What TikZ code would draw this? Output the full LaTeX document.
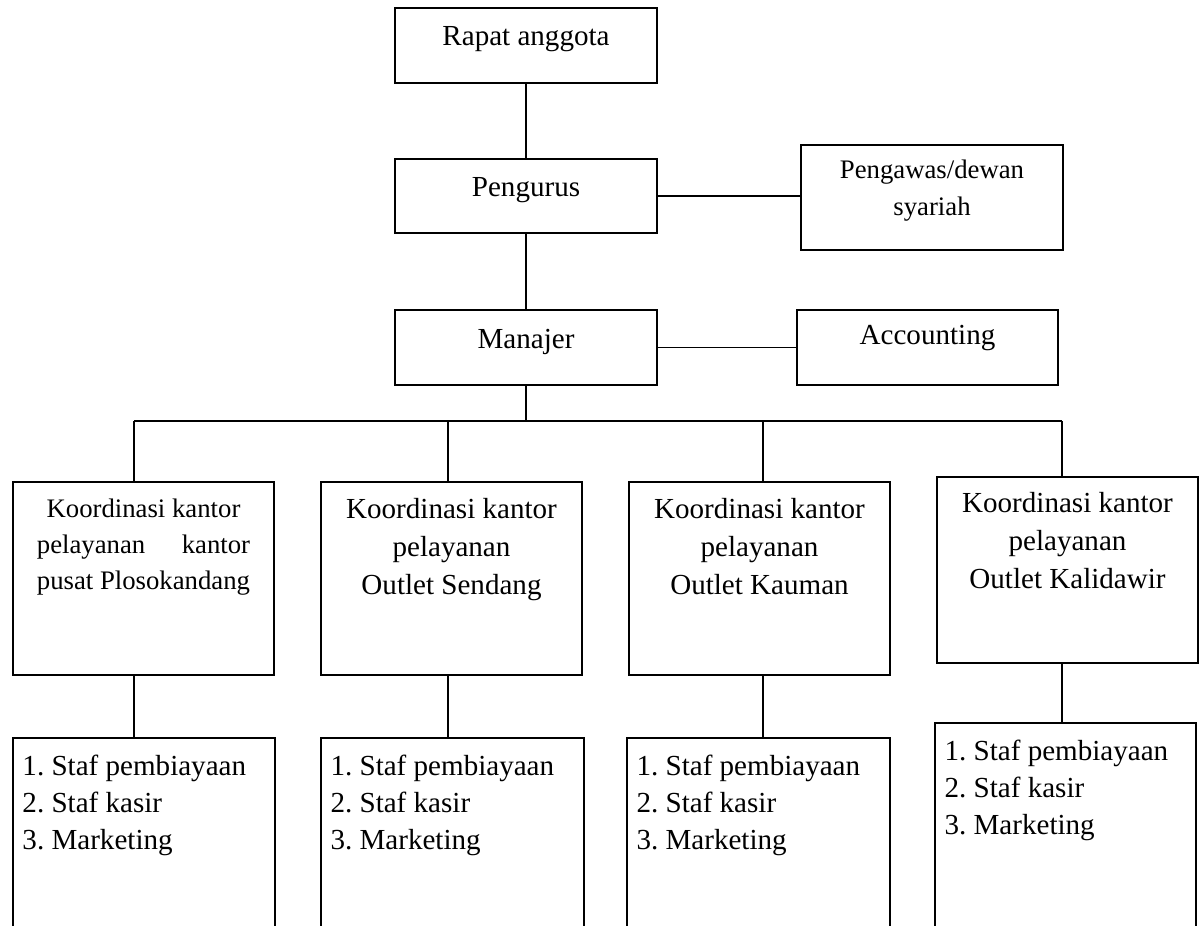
\documentclass[tikz,border=0pt]{standalone}
\usepackage{fontspec}
\setmainfont{Liberation Serif}
\usepackage{calc}
\frenchspacing
\tikzset{
    box/.style={rectangle, draw, line width=0.8pt, inner sep=0mm, minimum width=112.7pt, minimum height=32.25pt},
    kbox/.style={box, minimum height=83pt},
    sbox/.style={box, minimum height=95.5pt},
    link/.style={line width=0.75pt}
}
\tikzset{every label/.style={inner sep=0mm, align=center, font=\fontsize{12.5}{16.5}\selectfont}}

\begin{document}
\begin{tikzpicture}[x=0.43pt, y=-0.43pt]
    \useasboundingbox (0,0) rectangle (1202,925);
    \clip (0,0) rectangle (1202,925);

    \node[box] (ra) [label={[anchor=north, yshift=-8pt]north:Rapat anggota}] at (526, 45.5) {};
    \node[box, minimum height=31.8pt] (pg) [label={[anchor=north, yshift=-8pt]north:Pengurus}] at (526, 196) {};
    \node[box, minimum height=45.15pt] (pw) [label={[anchor=north, yshift=-6.5pt, font=\fontsize{11.5}{15.9}\selectfont]north:Pengawas/dewan\\syariah}] at (932, 197.5) {};
    \node[box] (mj) [label={[anchor=north, yshift=-8.5pt]north:Manajer}] at (526, 347.5) {};
    \node[box, minimum width=112.2pt] (ac) [label={[anchor=north, yshift=-6.7pt]north:Accounting}] at (927.5, 347.5) {};

    \node[kbox, minimum width=112.2pt] (k1) [label={[anchor=north, yshift=-7.3pt, font=\fontsize{11.5}{15.5}\selectfont]north:Koordinasi kantor\\\makebox[\widthof{pusat Plosokandang}][s]{pelayanan\hfill kantor}\\pusat Plosokandang}] at (143.5, 578.5) {};
    \node[kbox, minimum width=112.2pt] (k2) [label={[anchor=north, yshift=-7.1pt]north:Koordinasi kantor\\pelayanan\\Outlet Sendang}] at (451.5, 578.5) {};
    \node[kbox, minimum width=112.2pt] (k3) [label={[anchor=north, yshift=-7.1pt]north:Koordinasi kantor\\pelayanan\\Outlet Kauman}] at (759.5, 578.5) {};
    \node[kbox, minimum width=112.2pt, minimum height=80pt] (k4) [label={[anchor=north, yshift=-6.7pt, font=\fontsize{12.5}{16.3}\selectfont]north:Koordinasi kantor\\pelayanan\\Outlet Kalidawir}] at (1067.5, 570) {};

    \node[sbox] (s1) [label={[anchor=north west, xshift=4.3pt, yshift=-7.5pt, align=left, font=\fontsize{12.5}{15.9}\selectfont]north west:1. Staf pembiayaan\\2. Staf kasir\\3. Marketing}] at (144, 849) {};
    \node[sbox, minimum width=113.1pt] (s2) [label={[anchor=north west, xshift=4.3pt, yshift=-7.5pt, align=left, font=\fontsize{12.5}{15.9}\selectfont]north west:1. Staf pembiayaan\\2. Staf kasir\\3. Marketing}] at (452.5, 849) {};
    \node[sbox, minimum width=113.1pt] (s3) [label={[anchor=north west, xshift=4.3pt, yshift=-7.5pt, align=left, font=\fontsize{12.5}{15.9}\selectfont]north west:1. Staf pembiayaan\\2. Staf kasir\\3. Marketing}] at (758.5, 849) {};
    \node[sbox, minimum width=112.2pt] (s4) [label={[anchor=north west, xshift=4.3pt, yshift=-7.5pt, align=left, font=\fontsize{12.5}{15.9}\selectfont]north west:1. Staf pembiayaan\\2. Staf kasir\\3. Marketing}] at (1065.5, 834) {};

    \coordinate (b1) at (134, 421);
    \coordinate (b2) at (448, 421);
    \coordinate (b3) at (763, 421);
    \coordinate (b4) at (1062, 421);

    \draw[link] (ra) -- (pg);
    \draw[link] (pg) -- (mj);
    \draw[link] (pg.east) -- (pg.east -| pw.west);
    \draw[link] (mj.east) -- (mj.east -| ac.west);
    \draw[link] (mj.south) -- (mj.south |- b1);
    \draw[link] (b1) -- (b4);

    \draw[link] (b1) -- (b1 |- k1.north);
    \draw[link] (b2) -- (b2 |- k2.north);
    \draw[link] (b3) -- (b3 |- k3.north);
    \draw[link] (b4) -- (b4 |- k4.north);

    \draw[link] (b1 |- k1.south) -- (b1 |- s1.north);
    \draw[link] (b2 |- k2.south) -- (b2 |- s2.north);
    \draw[link] (b3 |- k3.south) -- (b3 |- s3.north);
    \draw[link] (b4 |- k4.south) -- (b4 |- s4.north);
\end{tikzpicture}
\end{document}
